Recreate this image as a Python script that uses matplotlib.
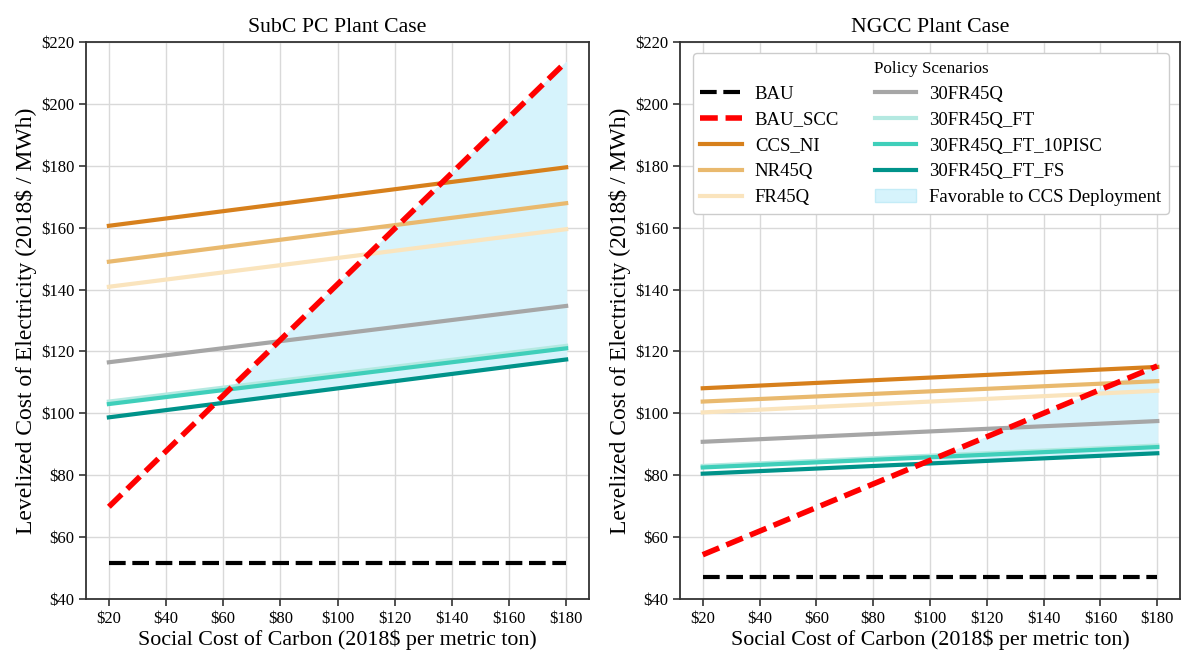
import numpy as np
from matplotlib import pyplot as plt

plt.rcParams['font.family'] = ['Liberation Serif', 'DejaVu Serif']

scc = [20, 180]

# SubC PC plant case ($/MWh at SCC = $20 and $180)
pc_bau = [51.6, 51.6]
pc_bau_scc = [69.8, 213.6]
pc_ccs_ni = [160.6, 179.5]
pc_nr45q = [149.0, 167.9]
pc_fr45q = [140.9, 159.5]
pc_30fr45q = [116.5, 134.7]
pc_30fr45q_ft = [103.8, 121.8]
pc_30fr45q_ft_10pisc = [103.0, 121.0]
pc_30fr45q_ft_fs = [98.7, 117.4]

# NGCC plant case
ng_bau = [47.0, 47.0]
ng_bau_scc = [54.3, 115.3]
ng_ccs_ni = [108.1, 115.0]
ng_nr45q = [103.8, 110.4]
ng_fr45q = [100.3, 107.3]
ng_30fr45q = [90.8, 97.5]
ng_30fr45q_ft = [83.0, 89.6]
ng_30fr45q_ft_10pisc = [82.5, 89.1]
ng_30fr45q_ft_fs = [80.5, 87.1]

labels = ['BAU', 'BAU_SCC', 'CCS_NI', 'NR45Q', 'FR45Q', '30FR45Q',
          '30FR45Q_FT', '30FR45Q_FT_10PISC', '30FR45Q_FT_FS']
colors = ['black', 'red', '#d7801c', '#e9b96e', '#fae4bd', '#a6a6a6',
          '#b4e9e1', '#3fcfba', '#00938a']
fill_color = '#d6f3fc'

fig = plt.figure(figsize=(11.83, 6.55), dpi=100)
ax1 = fig.add_axes([0.0727, 0.0855, 0.4252, 0.8504])
ax2 = fig.add_axes([0.5748, 0.0855, 0.4227, 0.8504])

pc = [pc_bau, pc_bau_scc, pc_ccs_ni, pc_nr45q, pc_fr45q, pc_30fr45q,
      pc_30fr45q_ft, pc_30fr45q_ft_10pisc, pc_30fr45q_ft_fs]
ng = [ng_bau, ng_bau_scc, ng_ccs_ni, ng_nr45q, ng_fr45q, ng_30fr45q,
      ng_30fr45q_ft, ng_30fr45q_ft_10pisc, ng_30fr45q_ft_fs]


def draw(ax, series, title):
    x = np.array(scc, dtype=float)
    scc_line = np.array(series[1])
    low = np.array(series[-1])
    ax.fill_between(x, low, scc_line, where=scc_line > low, interpolate=True,
                    color=fill_color, edgecolor=fill_color, lw=0.8,
                    label='Favorable to CCS Deployment', zorder=1)
    handles = []
    for i, (vals, lab, col) in enumerate(zip(series, labels, colors)):
        if i == 0:
            h, = ax.plot(x, vals, color=col, lw=3, ls='--', dashes=(4, 1.6),
                         label=lab, zorder=3)
        elif i == 1:
            h, = ax.plot(x, vals, color=col, lw=4, ls='--', dashes=(3.2, 1.4),
                         label=lab, zorder=4)
        else:
            h, = ax.plot(x, vals, color=col, lw=3, label=lab, zorder=2)
        handles.append(h)
    ax.set_ylim(40, 220)
    ax.set_xlim(12, 188)
    ax.set_xticks(np.arange(20, 181, 20))
    ax.set_yticks(np.arange(40, 221, 20))
    ax.set_xticklabels(['${}'.format(v) for v in range(20, 181, 20)])
    ax.set_yticklabels(['${}'.format(v) for v in range(40, 221, 20)])
    ax.grid(color='#d9d9d9', lw=1)
    ax.set_axisbelow(True)
    ax.tick_params(labelsize=12, length=5, width=1.2, color='#333333')
    for s in ax.spines.values():
        s.set_color('#333333')
        s.set_linewidth(1.3)
    ax.set_title(title, fontsize=15.7, pad=7)
    ax.set_xlabel('Social Cost of Carbon (2018$ per metric ton)', fontsize=15.8,
                  labelpad=2)
    ax.set_ylabel('Levelized Cost of Electricity (2018$ / MWh)', fontsize=17,
                  labelpad=3)
    return handles


draw(ax1, pc, 'SubC PC Plant Case')
handles = draw(ax2, ng, 'NGCC Plant Case')
fill_handle = plt.Rectangle((0, 0), 1, 1, facecolor=fill_color, edgecolor='#c4ecf7')
leg = ax2.legend(handles + [fill_handle], labels + ['Favorable to CCS Deployment'],
                 ncol=2, loc='upper right', title='Policy Scenarios',
                 fontsize=13.5, title_fontsize=12.3, framealpha=1,
                 edgecolor='#cccccc', handlelength=2.2, handletextpad=0.7,
                 columnspacing=1.9, labelspacing=0.47, borderaxespad=0.6)

plt.savefig('out.png', dpi=100)
